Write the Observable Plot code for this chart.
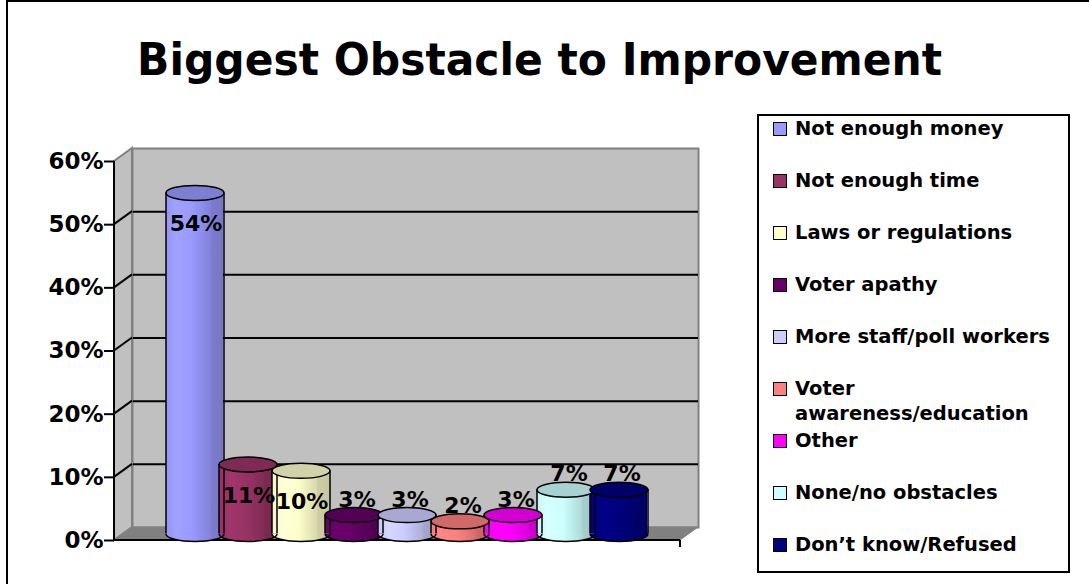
<!DOCTYPE html>
<html>
<head>
<meta charset="utf-8">
<script src="https://cdn.jsdelivr.net/npm/d3@7"></script>
<script src="https://cdn.jsdelivr.net/npm/@observablehq/plot@0.6"></script>
<style>
  html, body { margin: 0; padding: 0; background: #fff; }
  #wrap { position: relative; width: 1089px; height: 584px; overflow: hidden; background: #fff;
          font-family: "DejaVu Sans", Verdana, sans-serif; font-weight: bold; color: #000; }
  #outer { position: absolute; left: 6px; top: 0; width: 1200px; height: 700px;
           border-left: 2px solid #000; border-top: 2px solid #000; box-sizing: border-box; }
  #title { position: absolute; left: 0; top: 38px; width: 1079px; text-align: center;
           font-family: "DejaVu Sans Condensed", "DejaVu Sans", sans-serif; font-stretch: condensed;
           font-size: 44px; line-height: 43px; white-space: nowrap; }
  #title span { display: inline-block; transform-origin: 50% 50%; }
  #chart { position: absolute; left: 0; top: 0; }
  #legend { position: absolute; left: 757px; top: 114px; width: 313px; height: 459px;
            border: 2px solid #000; box-sizing: border-box; background: #fff; }
  .sw { position: absolute; width: 14px; height: 14px; border: 1.5px solid #000; box-sizing: border-box; }
  .lt { position: absolute; font-size: 19.5px; line-height: 25px; width: 272px; }
</style>
</head>
<body>
<div id="wrap">
  <div id="outer"></div>
  <div id="chart"></div>
  <div id="title"><span></span></div>
  <div id="legend"></div>
</div>
<script>
// ---- data ----
const title = "Biggest Obstacle to Improvement";
const categories = [
  "Not enough money",
  "Not enough time",
  "Laws or regulations",
  "Voter apathy",
  "More staff/poll workers",
  "Voter awareness/education",
  "Other",
  "None/no obstacles",
  "Don\u2019t know/Refused"
];
const values = [0.54, 0.11, 0.10, 0.03, 0.03, 0.02, 0.03, 0.07, 0.07];
const valueLabels = ["54%", "11%", "10%", "3%", "3%", "2%", "3%", "7%", "7%"];
const colors = ["#9999FF", "#993366", "#FFFFCC", "#660066", "#CCCCFF", "#FF8080", "#FF00FF", "#CCFFFF", "#000080"];
const yTicks = [0, 0.1, 0.2, 0.3, 0.4, 0.5, 0.6];
const yDomain = [0, 0.6];

const data = categories.map((c, i) => ({cat: c, value: values[i], label: valueLabels[i], color: colors[i], i}));

// ---- layout ----
const W = 720, H = 584;
const ML = 114, MR = 40, MT = 161, MB = 44;
const DX = 18, DY = -13;          // depth of the 3D box
const HX = DX / 2, HY = DY / 2;   // bars sit at mid depth
const RX = 29, RY = 7.5;          // cylinder cap radii (pixels)
const K = 0.5523;

const ellipseSym = {
  draw(ctx) {
    ctx.moveTo(-RX, 0);
    ctx.bezierCurveTo(-RX, -RY * K, -RX * K, -RY, 0, -RY);
    ctx.bezierCurveTo(RX * K, -RY, RX, -RY * K, RX, 0);
    ctx.bezierCurveTo(RX, RY * K, RX * K, RY, 0, RY);
    ctx.bezierCurveTo(-RX * K, RY, -RX, RY * K, -RX, 0);
    ctx.closePath();
  }
};
const lowerArcSym = {
  draw(ctx) {
    ctx.moveTo(-RX, 0);
    ctx.bezierCurveTo(-RX, RY * K, -RX * K, RY, 0, RY);
    ctx.bezierCurveTo(RX * K, RY, RX, RY * K, RX, 0);
  }
};

const capColor = d => d3.color(d.color).darker(0.55).formatHex();
const bodyFill = d => `url(#cyl${d.i})`;

const svg = Plot.plot({
  width: W, height: H,
  marginLeft: ML, marginRight: MR, marginTop: MT, marginBottom: MB,
  style: {fontFamily: "'DejaVu Sans', Verdana, sans-serif", fontWeight: "bold", fontSize: "22px", color: "#000", background: "transparent", overflow: "visible"},
  x: {type: "band", domain: categories, paddingInner: 0, paddingOuter: 0.76, axis: null},
  y: {domain: yDomain, axis: null},
  color: {type: "identity"},
  marks: [
    // back wall
    Plot.frame({dx: DX, dy: DY, fill: "#c0c0c0", stroke: "#808080", strokeWidth: 2}),
    // gridlines on the back wall
    Plot.ruleY(yTicks.slice(1, -1), {dx: DX, dy: DY, stroke: "#000", strokeWidth: 2}),
    // cylinders: bottom cap, body, side edges, bottom arc, top cap
    Plot.dot(data, {x: "cat", y: d => 0, symbol: ellipseSym, fill: bodyFill, stroke: "none", dx: HX, dy: HY}),
    Plot.barY(data, {x: "cat", y: "value", fill: bodyFill, insetLeft: -2, insetRight: -2, dx: HX, dy: HY}),
    Plot.ruleX(data, {x: "cat", y1: d => 0, y2: "value", dx: HX - RX, dy: HY, stroke: "#000", strokeWidth: 1.5}),
    Plot.ruleX(data, {x: "cat", y1: d => 0, y2: "value", dx: HX + RX, dy: HY, stroke: "#000", strokeWidth: 1.5}),
    Plot.dot(data, {x: "cat", y: d => 0, symbol: lowerArcSym, fill: "none", stroke: "#000", strokeWidth: 1.5, dx: HX, dy: HY}),
    Plot.dot(data, {x: "cat", y: "value", symbol: ellipseSym, fill: capColor, stroke: "#000", strokeWidth: 1.5, dx: HX, dy: HY}),
    // value labels
    Plot.text(data.filter(d => d.value >= 0.1), {x: "cat", y: "value", text: "label", dx: HX + 1, dy: 25, fill: "#000", fontSize: 22, fontWeight: "bold"}),
    Plot.text(data.filter(d => d.value < 0.1), {x: "cat", y: "value", text: "label", dx: HX + 3, dy: -22, fill: "#000", fontSize: 22, fontWeight: "bold"}),
    // y axis
    Plot.axisY(yTicks, {label: null, tickFormat: d3.format(".0%"), tickSize: 10, tickPadding: 1, strokeWidth: 2, fontSize: 23, fontWeight: "bold"})
  ]
});

// gradients for the cylinder bodies
const s = d3.select(svg);
const defs = s.insert("defs", ":first-child");
colors.forEach((c, i) => {
  const base = d3.color(c);
  const lg = defs.append("linearGradient").attr("id", "cyl" + i)
    .attr("x1", 0).attr("x2", 1).attr("y1", 0).attr("y2", 0);
  [[0, base.darker(0.1)], [0.18, base.brighter(0.15)], [0.45, base], [0.78, base.darker(0.45)],
   [0.8, base.darker(0.6)], [1, base.darker(0.7)]].forEach(([o, col]) =>
    lg.append("stop").attr("offset", o).attr("stop-color", col.formatHex()));
});

// side wall, floor, diagonal grid ticks and axis lines, placed under the bars
const y = svg.scale("y");
const x0 = ML, x1 = W - MR, yb = y.apply(0), yt = y.apply(0.6);
const g = d3.create("svg:g");
g.append("path").attr("d", `M${x0},${yt}L${x0 + DX},${yt + DY}L${x0 + DX},${yb + DY}L${x0},${yb}Z`)
  .attr("fill", "#c0c0c0").attr("stroke", "#808080").attr("stroke-width", 2);
g.append("path").attr("d", `M${x0},${yb}L${x1},${yb}L${x1 + DX},${yb + DY}L${x0 + DX},${yb + DY}Z`)
  .attr("fill", "#808080").attr("stroke", "#808080").attr("stroke-width", 1);
yTicks.slice(1, -1).forEach(t => {
  const yy = y.apply(t);
  g.append("line").attr("x1", x0).attr("y1", yy).attr("x2", x0 + DX).attr("y2", yy + DY)
    .attr("stroke", "#000").attr("stroke-width", 2);
});
g.append("line").attr("x1", x0).attr("y1", yt).attr("x2", x0).attr("y2", yb + 1).attr("stroke", "#000").attr("stroke-width", 2);
g.append("line").attr("x1", x0).attr("y1", yb).attr("x2", x1).attr("y2", yb).attr("stroke", "#000").attr("stroke-width", 2);
g.append("line").attr("x1", x1).attr("y1", yb).attr("x2", x1).attr("y2", yb + 7).attr("stroke", "#000").attr("stroke-width", 2);
const firstDot = svg.querySelector('g[aria-label="dot"]');
svg.insertBefore(g.node(), firstDot);

document.getElementById("chart").appendChild(svg);

// title, fitted to the reference width
const tspan = document.querySelector("#title span");
tspan.textContent = title;
const tw = tspan.getBoundingClientRect().width;
tspan.style.transform = `scaleX(${805 / tw})`;

// legend
const legend = document.getElementById("legend");
categories.forEach((c, i) => {
  const cy = 129 + 52 * i - 114 - 2;
  const sw = document.createElement("div");
  sw.className = "sw";
  sw.style.left = (773 - 757 - 2) + "px";
  sw.style.top = (cy - 7) + "px";
  sw.style.background = colors[i];
  legend.appendChild(sw);
  const t = document.createElement("div");
  t.className = "lt";
  t.style.left = (795 - 757 - 2) + "px";
  t.style.top = (cy - 13) + "px";
  t.textContent = c;
  legend.appendChild(t);
});
</script>
</body>
</html>
